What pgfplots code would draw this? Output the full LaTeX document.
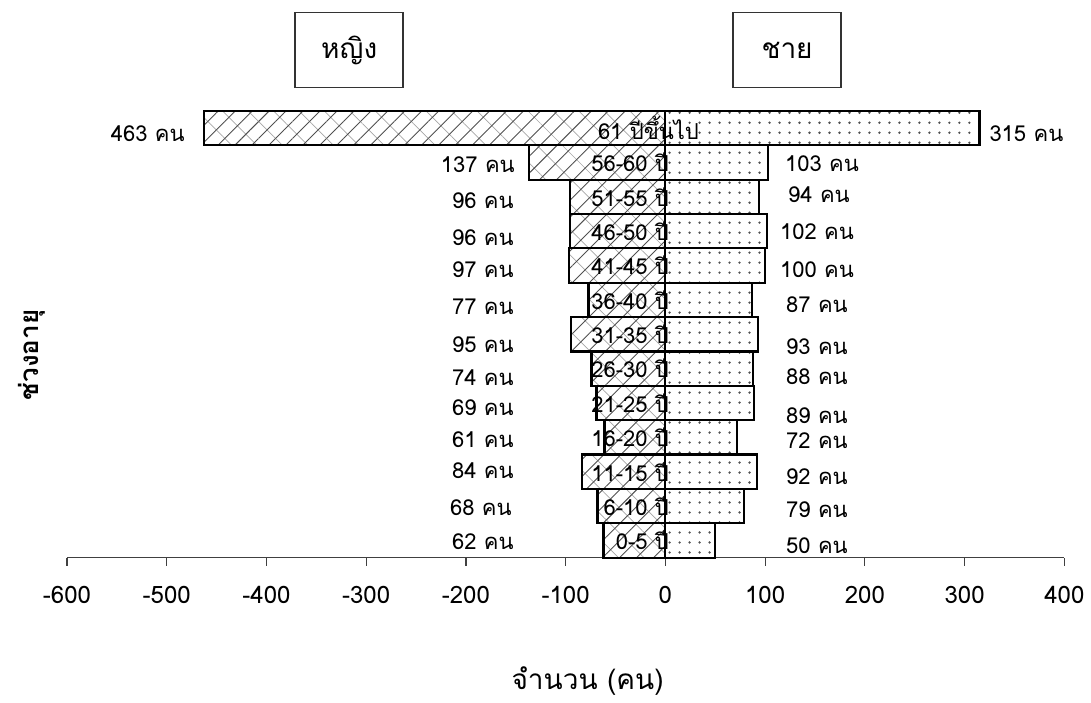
\documentclass[border=0pt]{standalone}
\usepackage{fontspec}
\setmainfont[Script=Thai]{Loma}
\usepackage{pgfplots}
\pgfplotsset{compat=1.18}
\usetikzlibrary{patterns.meta}

\definecolor{hatchgray}{RGB}{80,80,80}

\begin{document}
\begin{tikzpicture}
\begin{axis}[
    name=ax,
    scale only axis,
    width=499pt, height=223.5pt,
    xmin=-600, xmax=400,
    ymin=-0.5, ymax=12.5,
    xtick={-600,-500,...,400},
    axis x line=bottom,
    axis y line=none,
    x axis line style={-, line width=0.6pt, black!75},
    xtick style={black!75, line width=0.6pt},
    tick align=outside,
    major tick length=4pt,
    xticklabel style={font=\fontsize{12}{14}\selectfont, yshift=-7pt},
    /pgf/number format/assume math mode=true,
    ytick=\empty,
    clip=false,
    xbar,
    bar width=1,
    bar shift=0pt,
]

% หญิง (ค่าลบ) ล่างขึ้นบน: 0-5 ... 61+
\addplot[draw=none, pattern={Lines[angle=-45,distance=9pt,line width=0.35pt]}, pattern color=black!35, forget plot]
coordinates {
    (-62,0) (-68,1) (-84,2) (-61,3) (-69,4) (-74,5) (-95,6)
    (-77,7) (-97,8) (-96,9) (-96,10) (-137,11) (-463,12)
};
\addplot[draw=black, line width=1.1pt, pattern={Lines[angle=45,distance=6pt,line width=0.45pt]}, pattern color=hatchgray]
coordinates {
    (-62,0) (-68,1) (-84,2) (-61,3) (-69,4) (-74,5) (-95,6)
    (-77,7) (-97,8) (-96,9) (-96,10) (-137,11) (-463,12)
};
% ชาย
\addplot[draw=black, line width=1.1pt, pattern={Dots[distance=5pt,radius=0.65pt]}, pattern color=hatchgray]
coordinates {
    (50,0) (79,1) (92,2) (72,3) (89,4) (88,5) (93,6)
    (87,7) (100,8) (102,9) (94,10) (103,11) (315,12)
};

% ป้ายช่วงอายุ
\begin{scope}[every node/.style={font=\fontsize{11}{13}\selectfont, inner sep=0pt}]
\node[anchor=east] at (axis cs:34,12) {61 ปีขึ้นไป};
\node[anchor=east] at (axis cs:4,11) {56-60 ปี};
\node[anchor=east] at (axis cs:4,10) {51-55 ปี};
\node[anchor=east] at (axis cs:4,9) {46-50 ปี};
\node[anchor=east] at (axis cs:4,8) {41-45 ปี};
\node[anchor=east] at (axis cs:4,7) {36-40 ปี};
\node[anchor=east] at (axis cs:4,6) {31-35 ปี};
\node[anchor=east] at (axis cs:4,5) {26-30 ปี};
\node[anchor=east] at (axis cs:4,4) {21-25 ปี};
\node[anchor=east] at (axis cs:4,3) {16-20 ปี};
\node[anchor=east] at (axis cs:4,2) {11-15 ปี};
\node[anchor=east] at (axis cs:4,1) {6-10 ปี};
\node[anchor=east] at (axis cs:4,0) {0-5 ปี};

% ค่าหญิง
\node at (axis cs:-519,11.85) {463 คน};
\node at (axis cs:-188,10.93) {137 คน};
\node at (axis cs:-183,9.9) {96 คน};
\node at (axis cs:-183,8.8) {96 คน};
\node at (axis cs:-183,7.87) {97 คน};
\node at (axis cs:-183,6.8) {77 คน};
\node at (axis cs:-183,5.7) {95 คน};
\node at (axis cs:-183,4.73) {74 คน};
\node at (axis cs:-183,3.86) {69 คน};
\node at (axis cs:-183,2.93) {61 คน};
\node at (axis cs:-183,2.03) {84 คน};
\node at (axis cs:-185,0.95) {68 คน};
\node at (axis cs:-183,-0.03) {62 คน};

% ค่าชาย
\node at (axis cs:362,11.85) {315 คน};
\node at (axis cs:157,10.98) {103 คน};
\node at (axis cs:154,10.05) {94 คน};
\node at (axis cs:152,8.98) {102 คน};
\node at (axis cs:152,7.87) {100 คน};
\node at (axis cs:152,6.85) {87 คน};
\node at (axis cs:152,5.63) {93 คน};
\node at (axis cs:152,4.76) {88 คน};
\node at (axis cs:152,3.63) {89 คน};
\node at (axis cs:152,2.9) {72 คน};
\node at (axis cs:152,1.85) {92 คน};
\node at (axis cs:152,0.9) {79 คน};
\node at (axis cs:152,-0.15) {50 คน};
\end{scope}

% กล่องหญิง / ชาย
\node[draw=black!80, line width=0.8pt, minimum width=54pt, minimum height=37.5pt,
      font=\fontsize{14}{16}\selectfont] at (axis cs:-317,14.27) {หญิง};
\node[draw=black!80, line width=0.8pt, minimum width=54pt, minimum height=37.5pt,
      font=\fontsize{14}{16}\selectfont] at (axis cs:122,14.27) {ชาย};

% ชื่อแกน
\node[font=\fontsize{14}{16}\selectfont] at (axis cs:-78,-4.1) {จำนวน (คน)};
\node[rotate=90, font=\bfseries\fontsize{13}{15}\selectfont] at (axis cs:-635,5.4) {ช่วงอายุ};
\end{axis}
\path ([shift={(-33.5pt,-69.5pt)}]ax.south west) rectangle ([shift={(13pt,55.5pt)}]ax.north east);
\end{tikzpicture}
\end{document}
